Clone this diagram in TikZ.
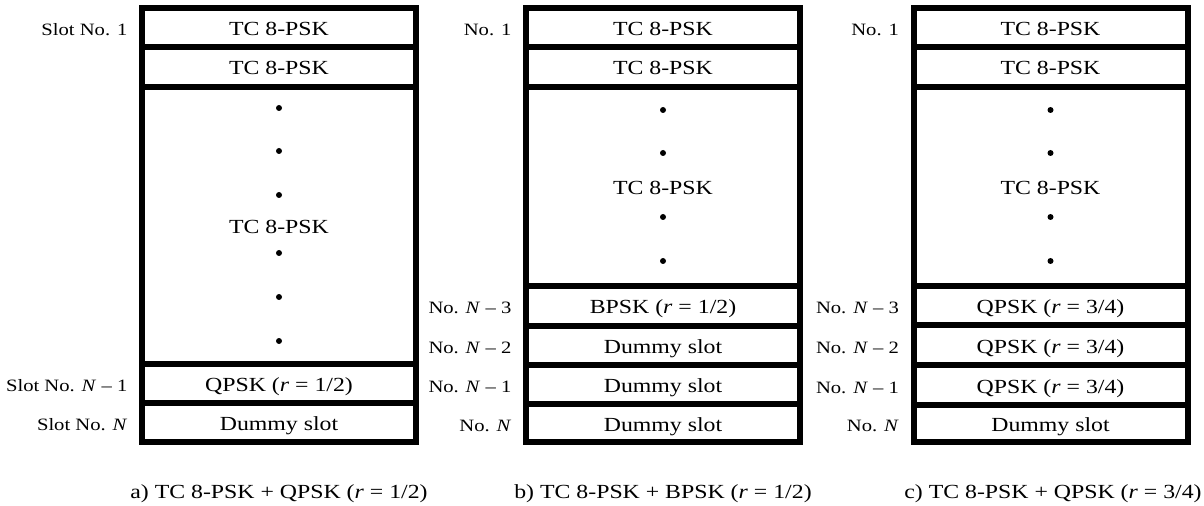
\documentclass[tikz,border=0pt]{standalone}
\usepackage{fontspec}
\setmainfont{Liberation Serif}[FakeStretch=1.19]
\newcommand\slotbox[5]{\node[slotbox, minimum height={(#4-#3)*0.75pt}] (#1) at (#2,{(#3+#4)/2}) {#5};}
\newcommand\slotdot[3]{\node[slotdot] (#1) at (#2,#3) {};}
\begin{document}
\begin{tikzpicture}[x=0.75pt, y={(0pt,-0.75pt)},
  slotbox/.style={draw, line width=4.5pt, rectangle, inner sep=0pt,
    minimum width=205.5pt, font=\fontsize{15}{18}\selectfont,
    text height=12.75pt, text depth=0.75pt},
  slotdot/.style={circle, fill, inner sep=0pt, minimum size=4.5pt},
  lab/.style={anchor=base east, inner sep=0pt, font=\fontsize{13}{15}\selectfont},
  captext/.style={anchor=base, inner sep=0pt, font=\fontsize{15}{18}\selectfont}]
\useasboundingbox (0,0) rectangle (1204,506);
% column a
\slotbox{a1}{279}{8}{47}{TC 8-PSK}
\slotbox{a2}{279}{47}{87}{TC 8-PSK}
\slotbox{a3}{279}{87}{364}{TC 8-PSK}
\slotbox{a4}{279}{364}{403}{QPSK (\textit{r} = 1/2)}
\slotbox{a5}{279}{403}{442}{Dummy slot}
\slotdot{ad1}{279}{108}
\slotdot{ad2}{279}{151}
\slotdot{ad3}{279}{195}
\slotdot{ad4}{279}{253}
\slotdot{ad5}{279}{297}
\slotdot{ad6}{279}{341}
\node[lab] (la1) at ([xshift=-8.5pt,yshift=-6pt]a1.west) {Slot No. 1};
\node[lab] (la4) at ([xshift=-8.5pt,yshift=-6pt]a4.west) {Slot No. \textit{N} -- 1};
\node[lab] (la5) at ([xshift=-8.5pt,yshift=-6pt]a5.west) {Slot No. \textit{N}};
\node[captext] (capa) at (279,498) {a) TC 8-PSK + QPSK (\textit{r} = 1/2)};
% column b
\slotbox{b1}{663}{8}{47}{TC 8-PSK}
\slotbox{b2}{663}{47}{87}{TC 8-PSK}
\slotbox{b3}{663}{87}{286}{TC 8-PSK}
\slotbox{b4}{663}{286}{326}{BPSK (\textit{r} = 1/2)}
\slotbox{b5}{663}{326}{365}{Dummy slot}
\slotbox{b6}{663}{365}{404}{Dummy slot}
\slotbox{b7}{663}{404}{442}{Dummy slot}
\slotdot{bd1}{663}{110}
\slotdot{bd2}{663}{153}
\slotdot{bd3}{663}{217}
\slotdot{bd4}{663}{261}
\node[lab] (lb1) at ([xshift=-8.5pt,yshift=-6pt]b1.west) {No. 1};
\node[lab] (lb4) at ([xshift=-8.5pt,yshift=-6pt]b4.west) {No. \textit{N} -- 3};
\node[lab] (lb5) at ([xshift=-8.5pt,yshift=-6pt]b5.west) {No. \textit{N} -- 2};
\node[lab] (lb6) at ([xshift=-8.5pt,yshift=-6pt]b6.west) {No. \textit{N} -- 1};
\node[lab] (lb7) at ([xshift=-8.5pt,yshift=-6pt]b7.west) {No. \textit{N}};
\node[captext] (capb) at (663,498) {b) TC 8-PSK + BPSK (\textit{r} = 1/2)};
% column c
\slotbox{c1}{1050.5}{8}{47}{TC 8-PSK}
\slotbox{c2}{1050.5}{47}{87}{TC 8-PSK}
\slotbox{c3}{1050.5}{87}{286}{TC 8-PSK}
\slotbox{c4}{1050.5}{286}{325}{QPSK (\textit{r} = 3/4)}
\slotbox{c5}{1050.5}{325}{365}{QPSK (\textit{r} = 3/4)}
\slotbox{c6}{1050.5}{365}{405}{QPSK (\textit{r} = 3/4)}
\slotbox{c7}{1050.5}{405}{442}{Dummy slot}
\slotdot{cd1}{1050.5}{110}
\slotdot{cd2}{1050.5}{153}
\slotdot{cd3}{1050.5}{217}
\slotdot{cd4}{1050.5}{261}
\node[lab] (lc1) at ([xshift=-8.5pt,yshift=-6pt]c1.west) {No. 1};
\node[lab] (lc4) at ([xshift=-8.5pt,yshift=-6pt]c4.west) {No. \textit{N} -- 3};
\node[lab] (lc5) at ([xshift=-8.5pt,yshift=-6pt]c5.west) {No. \textit{N} -- 2};
\node[lab] (lc6) at ([xshift=-8.5pt,yshift=-6pt]c6.west) {No. \textit{N} -- 1};
\node[lab] (lc7) at ([xshift=-8.5pt,yshift=-6pt]c7.west) {No. \textit{N}};
\node[captext] (capc) at (1053,498) {c) TC 8-PSK + QPSK (\textit{r} = 3/4)};
\end{tikzpicture}
\end{document}
